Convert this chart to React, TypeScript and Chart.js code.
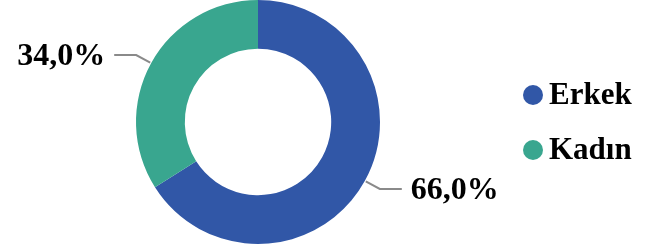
import React, { useEffect, useRef } from "react";
import { Chart, registerables } from "chart.js";

Chart.register(...registerables);

const categories = ["Erkek", "Kadın"];
const values = [66.0, 34.0];
const colors = ["#3157A7", "#39A68F"];

const FONT = "bold 32px 'Liberation Serif', 'Times New Roman', serif";
const LEGEND_FONT = "bold 31px 'Liberation Serif', 'Times New Roman', serif";

const fmt = (v: number) => v.toFixed(1).replace(".", ",") + "%";

const overlayPlugin = {
  id: "overlay",
  afterDatasetsDraw(chart: any) {
    const ctx = chart.ctx as CanvasRenderingContext2D;
    const meta = chart.getDatasetMeta(0);
    ctx.save();
    meta.data.forEach((arc: any, i: number) => {
      const { x, y, startAngle, endAngle, outerRadius } = arc.getProps(
        ["x", "y", "startAngle", "endAngle", "outerRadius"],
        true
      );
      const mid = (startAngle + endAngle) / 2;
      const cos = Math.cos(mid);
      const sin = Math.sin(mid);
      const x0 = x + cos * (outerRadius + 1);
      const y0 = y + sin * (outerRadius + 1);
      const x1 = x + cos * (outerRadius + 17);
      const y1 = y + sin * (outerRadius + 17);
      const right = cos >= 0;
      const x2 = x1 + (right ? 22 : -22);
      ctx.strokeStyle = "#8A8A8A";
      ctx.lineWidth = 2;
      ctx.beginPath();
      ctx.moveTo(x0, y0);
      ctx.lineTo(x1, y1);
      ctx.lineTo(x2, y1);
      ctx.stroke();
      ctx.font = FONT;
      ctx.fillStyle = "#000";
      ctx.textBaseline = "alphabetic";
      ctx.textAlign = right ? "left" : "right";
      ctx.fillText(fmt(values[i]), x2 + (right ? 9 : -9), y1 + 10);
    });
    // legend
    const lx = 533;
    const ly = [95, 150];
    categories.forEach((c, i) => {
      ctx.fillStyle = colors[i];
      ctx.beginPath();
      ctx.arc(lx, ly[i], 10, 0, Math.PI * 2);
      ctx.fill();
      ctx.fillStyle = "#000";
      ctx.font = LEGEND_FONT;
      ctx.textAlign = "left";
      ctx.textBaseline = "alphabetic";
      ctx.fillText(c, 549, ly[i] + 9);
    });
    ctx.restore();
  },
};

export default function App() {
  const ref = useRef<HTMLCanvasElement | null>(null);
  useEffect(() => {
    document.body.style.margin = "0";
    const chart = new Chart(ref.current!, {
      type: "doughnut",
      data: {
        labels: categories,
        datasets: [
          {
            data: values,
            backgroundColor: colors,
            borderWidth: 0,
          },
        ],
      },
      options: {
        responsive: false,
        animation: false,
        cutout: "60%",
        layout: { padding: { left: 136, right: 269, top: 0, bottom: 4 } },
        plugins: {
          legend: { display: false },
          tooltip: { enabled: false },
        },
      },
      plugins: [overlayPlugin],
    });
    return () => chart.destroy();
  }, []);
  return (
    <div style={{ width: 649, height: 248, background: "#fff" }}>
      <canvas ref={ref} width={649} height={248} />
    </div>
  );
}
